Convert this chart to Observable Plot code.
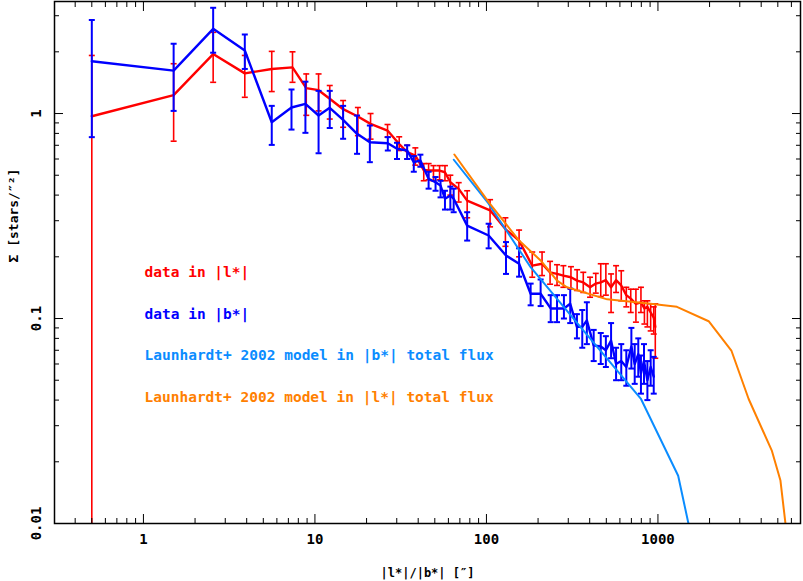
<!DOCTYPE html>
<html>
<head>
<meta charset="utf-8">
<script src="https://cdn.jsdelivr.net/npm/d3@7"></script>
<script src="https://cdn.jsdelivr.net/npm/@observablehq/plot@0.6"></script>
<style>
  body { margin: 0; background: #fff; }
  #chart { width: 803px; height: 581px; }
</style>
</head>
<body>
<div id="chart"></div>
<script>
// Surface density profile along |l*| (red) and |b*| (blue), with the
// Launhardt+ 2002 model curves.

const redX = [0.5, 1.5, 2.55, 3.9, 5.6, 7.4, 8.9, 10.5, 12.2, 14.6, 17.8, 21.1, 26.5, 31, 34.5, 38.5, 43.1, 46, 49.1, 53.3, 57.3, 61.6, 68.9, 77.2, 105, 129, 155, 185, 211, 235, 258, 281, 311, 338, 367, 402, 434, 464, 497, 533, 570, 611, 654, 694, 744, 796, 834, 868, 907, 945, 965];
const redY = [0.97, 1.23, 1.95, 1.57, 1.65, 1.68, 1.33, 1.30, 1.18, 1.05, 0.967, 0.89, 0.826, 0.71, 0.648, 0.624, 0.53, 0.527, 0.527, 0.527, 0.517, 0.462, 0.429, 0.376, 0.337, 0.273, 0.24, 0.181, 0.185, 0.168, 0.165, 0.162, 0.159, 0.153, 0.150, 0.142, 0.148, 0.150, 0.154, 0.142, 0.154, 0.145, 0.130, 0.125, 0.118, 0.120, 0.112, 0.114, 0.107, 0.101, 0.091];
const redLo = [0.01, 0.733, 1.42, 1.2, 1.28, 1.42, 0.98, 1.03, 0.94, 0.857, 0.78, 0.75, 0.767, 0.66, 0.6, 0.56, 0.47, 0.475, 0.47, 0.475, 0.47, 0.40, 0.37, 0.31, 0.28, 0.225, 0.2, 0.159, 0.162, 0.147, 0.145, 0.142, 0.139, 0.137, 0.134, 0.127, 0.133, 0.128, 0.13, 0.107, 0.134, 0.122, 0.114, 0.107, 0.096, 0.107, 0.094, 0.091, 0.087, 0.084, 0.064];
const redHi = [1.92, 1.75, 2.49, 1.92, 2.01, 2.0, 1.56, 1.56, 1.37, 1.157, 1.07, 1.0, 0.884, 0.77, 0.7, 0.68, 0.57, 0.57, 0.557, 0.557, 0.557, 0.50, 0.46, 0.42, 0.38, 0.31, 0.27, 0.211, 0.211, 0.19, 0.183, 0.181, 0.179, 0.173, 0.168, 0.159, 0.166, 0.185, 0.185, 0.165, 0.181, 0.171, 0.142, 0.139, 0.139, 0.142, 0.122, 0.122, 0.118, 0.114, 0.118];

const blueX = [0.5, 1.5, 2.55, 3.9, 5.6, 7.3, 8.8, 10.5, 12.2, 14.6, 17.6, 20.9, 26.6, 30.1, 34.5, 37.7, 41.2, 46, 50.5, 54, 57.3, 61.6, 64.4, 77.2, 103, 130, 155, 181, 207, 237, 258, 283, 308, 337, 362, 385, 422, 464, 497, 533, 570, 611, 654, 700, 732, 768, 796, 829, 868, 907, 945];
const blueY = [1.80, 1.62, 2.59, 2.03, 0.907, 1.07, 1.115, 0.978, 1.066, 0.932, 0.796, 0.724, 0.716, 0.673, 0.66, 0.579, 0.59, 0.48, 0.462, 0.445, 0.384, 0.398, 0.384, 0.284, 0.254, 0.203, 0.185, 0.132, 0.132, 0.112, 0.112, 0.112, 0.118, 0.091, 0.091, 0.098, 0.074, 0.073, 0.07, 0.078, 0.06, 0.062, 0.058, 0.073, 0.06, 0.067, 0.054, 0.062, 0.05, 0.058, 0.052];
const blueLo = [0.767, 1.03, 1.98, 1.65, 0.703, 0.835, 0.805, 0.64, 0.85, 0.753, 0.636, 0.579, 0.66, 0.6, 0.6, 0.52, 0.55, 0.43, 0.42, 0.39, 0.34, 0.34, 0.33, 0.24, 0.22, 0.165, 0.16, 0.116, 0.115, 0.096, 0.096, 0.1, 0.095, 0.08, 0.072, 0.075, 0.062, 0.06, 0.058, 0.064, 0.05, 0.05, 0.047, 0.057, 0.048, 0.052, 0.043, 0.048, 0.04, 0.047, 0.043];
const blueHi = [2.86, 2.19, 3.28, 2.43, 1.09, 1.31, 1.43, 1.29, 1.29, 1.09, 0.978, 0.874, 0.767, 0.72, 0.7, 0.62, 0.63, 0.52, 0.49, 0.47, 0.42, 0.44, 0.43, 0.33, 0.29, 0.236, 0.22, 0.148, 0.155, 0.13, 0.13, 0.13, 0.14, 0.105, 0.11, 0.12, 0.088, 0.085, 0.082, 0.095, 0.072, 0.075, 0.07, 0.09, 0.075, 0.08, 0.066, 0.075, 0.062, 0.07, 0.065];

// Launhardt+ 2002 model curves
const modelBX = [64.5, 103, 181, 367, 794, 1312, 1506];
const modelBY = [0.595, 0.363, 0.178, 0.0875, 0.0407, 0.0171, 0.01];
const modelLX = [65, 103, 155, 207, 258, 295, 506, 907, 1290, 1976, 2680, 3380, 4620, 5180, 5540];
const modelLY = [0.631, 0.37, 0.24, 0.192, 0.153, 0.142, 0.124, 0.118, 0.114, 0.097, 0.0698, 0.0405, 0.0226, 0.0162, 0.01];

const xMajor = [1, 10, 100, 1000];
const xMajorLabels = ["1", "10", "100", "1000"];
const xDecades = [0.1, 1, 10, 100, 1000];
const yMajor = [0.01, 0.1, 1];
const yMajorLabels = ["0.01", "0.1", "1"];
const yDecades = [0.01, 0.1, 1];
const minorSteps = [2, 3, 4, 5, 6, 7, 8, 9];

const legendLabels = [
  "data in |l*|",
  "data in |b*|",
  "Launhardt+ 2002 model in |b*| total flux",
  "Launhardt+ 2002 model in |l*| total flux"
];
const RED = "#ff0000", BLUE = "#0000ff", LBLUE = "#0a8cff", ORANGE = "#ff8000";
const legendColors = [RED, BLUE, LBLUE, ORANGE];

const X_DOMAIN = [0.303, 6780];
const Y_DOMAIN = [0.01, 3.52];

const series = (xs, ys, lo, hi) => xs.map((x, i) => ({x, y: ys[i], lo: lo ? lo[i] : null, hi: hi ? hi[i] : null}));
const red = series(redX, redY, redLo, redHi);
const blue = series(blueX, blueY, blueLo, blueHi);
const modelB = series(modelBX, modelBY);
const modelL = series(modelLX, modelLY);

const minors = (decades, dom) =>
  decades.flatMap((d) => minorSteps.map((m) => d * m)).filter((v) => v > dom[0] && v < dom[1]);
const xMinor = minors(xDecades, X_DOMAIN);
const yMinor = minors(yDecades, Y_DOMAIN);

// short horizontal bar used as error-bar cap
const capSymbol = {
  draw(ctx, size) {
    const r = Math.sqrt(size / Math.PI);
    ctx.moveTo(-r, 0);
    ctx.lineTo(r, 0);
  }
};

function errorMarks(data, color, width) {
  return [
    Plot.ruleX(data, {x: "x", y1: "lo", y2: "hi", stroke: color, strokeWidth: width}),
    Plot.dot(data, {x: "x", y: "hi", symbol: capSymbol, r: 3, stroke: color, strokeWidth: width, fill: "none"}),
    Plot.dot(data.filter((d) => d.lo > Y_DOMAIN[0]), {x: "x", y: "lo", symbol: capSymbol, r: 3, stroke: color, strokeWidth: width, fill: "none"})
  ];
}

const noText = () => "";
const FONT = "'DejaVu Sans Mono', monospace";

const plot = Plot.plot({
  width: 803,
  height: 581,
  marginLeft: 54,
  marginRight: 3,
  marginTop: 1,
  marginBottom: 58,
  style: {fontFamily: FONT, fontSize: "14px", fontWeight: "bold", background: "#fff", color: "#000"},
  x: {type: "log", domain: X_DOMAIN},
  y: {type: "log", domain: Y_DOMAIN},
  marks: [
    // red profile
    ...errorMarks(red, RED, 1.6),
    Plot.line(red, {x: "x", y: "y", stroke: RED, strokeWidth: 2.4}),
    // blue profile
    ...errorMarks(blue, BLUE, 2),
    Plot.line(blue, {x: "x", y: "y", stroke: BLUE, strokeWidth: 2.4}),
    // models
    Plot.line(modelB, {x: "x", y: "y", stroke: LBLUE, strokeWidth: 2, clip: true}),
    Plot.line(modelL, {x: "x", y: "y", stroke: ORANGE, strokeWidth: 2, clip: true}),

    // inward ticks on all four sides
    Plot.axisX({anchor: "bottom", ticks: xMajor, tickSize: -9, tickFormat: noText, label: null}),
    Plot.axisX({anchor: "bottom", ticks: xMinor, tickSize: -5, tickFormat: noText, label: null}),
    Plot.axisX({anchor: "top", ticks: xMajor, tickSize: -9, tickFormat: noText, label: null}),
    Plot.axisX({anchor: "top", ticks: xMinor, tickSize: -5, tickFormat: noText, label: null}),
    Plot.axisY({anchor: "left", ticks: yMajor, tickSize: -9, tickFormat: noText, label: null}),
    Plot.axisY({anchor: "left", ticks: yMinor, tickSize: -5, tickFormat: noText, label: null}),
    Plot.axisY({anchor: "right", ticks: yMajor, tickSize: -9, tickFormat: noText, label: null}),
    Plot.axisY({anchor: "right", ticks: yMinor, tickSize: -5, tickFormat: noText, label: null}),
    Plot.frame({stroke: "#000", strokeWidth: 1.5}),

    // tick labels
    Plot.text(xMajor, {x: (d) => d, frameAnchor: "bottom", dy: 16, text: (d, i) => xMajorLabels[i], lineAnchor: "middle", fill: "#000", fontSize: 14}),
    Plot.text(yMajor, {y: (d) => d, frameAnchor: "left", dx: -18, rotate: -90, text: (d, i) => yMajorLabels[i], textAnchor: "middle", lineAnchor: "middle", fill: "#000", fontSize: 14}),

    // axis titles
    Plot.text(["|l*|/|b*| [″]"], {frameAnchor: "bottom", dy: 50, lineAnchor: "middle", fill: "#000", fontSize: 12}),
    Plot.text(["Σ [stars/″²]"], {frameAnchor: "left", dx: -41, rotate: -90, lineAnchor: "middle", fill: "#000", fontSize: 13}),

    // in-plot legend
    ...legendLabels.map((label, i) =>
      Plot.text([label], {frameAnchor: "top-left", dx: 90, dy: 271 + i * 41.5, textAnchor: "start", lineAnchor: "middle", fill: legendColors[i], fontSize: 14.5})
    )
  ]
});

document.getElementById("chart").appendChild(plot);
</script>
</body>
</html>
